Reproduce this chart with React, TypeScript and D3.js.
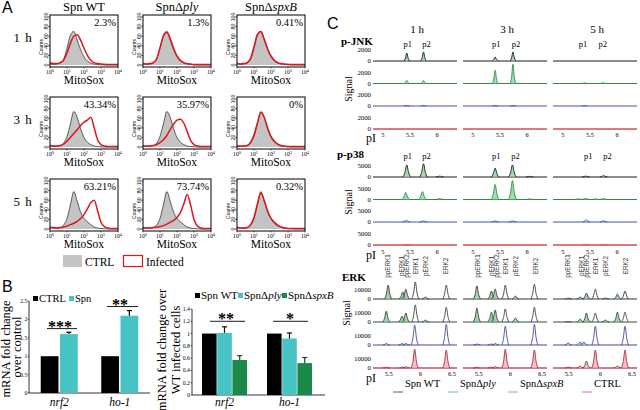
import React from "react";
import * as d3 from "d3";

const SERIF = "'Liberation Serif','Times New Roman',serif";
const SANS = "'Liberation Sans',Arial,sans-serif";

// ---------------- Panel A data ----------------
const strainNames = ["Spn WT", "SpnΔ", "SpnΔ"];
const strainItalic = ["", "ply", "spxB"];
const timeLabels = ["1 h", "3 h", "5 h"];
const positivePct = [
  ["2.3%", "1.3%", "0.41%"],
  ["43.34%", "35.97%", "0%"],
  ["63.21%", "73.74%", "0.32%"],
];
const logBins = [0, 0.2, 0.4, 0.6, 0.8, 1.0, 1.2, 1.4, 1.6, 1.8, 2.0, 2.2, 2.4, 2.6, 2.8, 3.0, 3.2, 3.4, 3.6, 3.8, 4.0];
const countTicks = [0, 20, 40, 60, 80, 100];
const decadeTicks = [0, 1, 2, 3, 4];

const ctrl1h = [3, 1, 2, 4, 12, 35, 62, 70, 52, 32, 17, 8, 4, 2, 1, 0.5, 0, 0, 0, 0, 0];
const ctrl3h = [3, 1, 2, 3, 8, 22, 48, 74, 62, 38, 20, 10, 5, 2, 1, 0.5, 0, 0, 0, 0, 0];
const ctrl5h = [4, 2, 2, 3, 8, 22, 50, 78, 58, 35, 22, 15, 9, 4, 2, 1, 0.5, 0, 0, 0, 0];
const inf1hWT = [4, 3, 3, 5, 10, 25, 45, 60, 63, 52, 35, 20, 10, 5, 3, 2, 1.5, 1, 1, 1, 1];
const inf1hPly = [3, 2, 3, 5, 13, 36, 60, 68, 55, 35, 19, 10, 5, 3, 2, 1, 1, 1, 1, 1, 1];
const inf1hSpxB = [3, 2, 3, 5, 14, 38, 64, 70, 54, 34, 19, 10, 5, 3, 2, 1.5, 1, 1, 1, 1, 1];
const inf3hWT = [3, 2, 2, 3, 6, 12, 20, 28, 36, 45, 52, 56, 62, 40, 15, 5, 2, 1, 1, 1, 1];
const inf3hPly = [2, 2, 2, 3, 5, 9, 15, 24, 36, 48, 56, 58, 50, 32, 14, 5, 2, 1, 1, 1, 1];
const inf3hSpxB = [2, 2, 2, 3, 10, 25, 50, 72, 62, 40, 22, 12, 6, 3, 2, 1, 1, 1, 1, 1, 1];
const inf5hWT = [3, 3, 2, 3, 4, 6, 9, 12, 16, 22, 30, 42, 55, 60, 38, 14, 5, 2, 1, 1, 1];
const inf5hPly = [2, 2, 2, 3, 4, 5, 7, 10, 14, 18, 24, 34, 52, 72, 50, 20, 6, 2, 1, 1, 1];
const inf5hSpxB = [3, 2, 2, 3, 9, 24, 52, 75, 60, 38, 22, 13, 7, 4, 2, 1, 1, 1, 1, 1, 1];

// ---------------- Panel B data ----------------
const genes = ["nrf2", "ho-1"];
const leftSeries = ["CTRL", "Spn"];
const ctrlFold = [1, 1];
const spnFold = [1.6, 2.1];
const spnFoldErr = [0.05, 0.14];
const leftTicks = [0, 0.5, 1, 1.5, 2, 2.5];
const rightSeries = ["Spn WT", "SpnΔply", "SpnΔspxB"];
const wtFold = [1, 1];
const plyFold = [1.01, 0.92];
const plyFoldErr = [0.1, 0.09];
const spxBFold = [0.57, 0.52];
const spxBFoldErr = [0.07, 0.09];
const rightTicks = [0, 0.2, 0.4, 0.6, 0.8, 1, 1.2, 1.4];
const leftStars = ["***", "**"];
const rightStars = ["**", "*"];

// ---------------- Panel C data ----------------
const cTimes = ["1 h", "3 h", "5 h"];
const jnkPeaks = [
  [[[5.44, 1450], [5.75, 1650]], [[5.44, 550], [5.75, 550]], [[5.44, 100], [5.75, 100]], []],
  [[[5.41, 730], [5.74, 1650]], [[5.41, 2400], [5.74, 3500]], [[5.41, 80], [5.74, 80]], []],
  [[], [[5.4, 120], [5.74, 150]], [[5.4, 80]], []],
];
const p38Peaks = [
  [[[5.44, 5500], [5.75, 6000], [6.05, 400]], [[5.42, 3200], [5.73, 3600], [6.05, 400]], [[5.43, 700], [5.75, 500]], [[5.45, 200]]],
  [[[5.41, 4000], [5.73, 5500], [6.05, 300]], [[5.41, 6800], [5.73, 8600], [6.05, 300]], [[5.41, 500], [5.73, 500]], []],
  [[[5.42, 400], [5.75, 600]], [[5.28, 300], [5.42, 500], [5.6, 300], [5.75, 500]], [[5.43, 1000], [5.75, 600]], [[5.43, 300], [5.75, 300]]],
];
const erkPeaks = [
  [
    [[5.49, 15500], [5.72, 7800], [5.77, 11000], [5.92, 19000], [6.08, 2200], [6.41, 15500]],
    [[5.46, 12000], [5.71, 6600], [5.77, 10000], [5.92, 19000], [6.08, 2200], [6.41, 16500]],
    [[5.46, 1600], [5.71, 1600], [5.77, 1600], [5.91, 22000], [6.41, 23000]],
    [[5.46, 1000], [5.72, 1000], [5.77, 1500], [5.91, 21000], [6.41, 20000]],
  ],
  [
    [[5.47, 14500], [5.7, 8900], [5.76, 11000], [5.92, 15500], [6.08, 3300], [6.38, 16500]],
    [[5.47, 15500], [5.7, 11000], [5.76, 13300], [5.92, 14500], [6.08, 4400], [6.38, 16500]],
    [[5.47, 1100], [5.7, 1100], [5.76, 1600], [5.92, 21000], [6.38, 23000]],
    [[5.47, 800], [5.7, 1000], [5.76, 1500], [5.92, 21000], [6.38, 20000]],
  ],
  [
    [[5.49, 1000], [5.68, 2200], [5.78, 6600], [5.92, 11000], [6.08, 1100], [6.27, 5500], [6.39, 8900]],
    [[5.49, 600], [5.68, 3300], [5.78, 10000], [5.92, 10000], [6.08, 2200], [6.27, 11000], [6.39, 11000]],
    [[5.49, 2200], [5.68, 3300], [5.74, 3300], [5.92, 21000], [6.39, 21000]],
    [[5.49, 1100], [5.68, 2200], [5.78, 7800], [5.92, 20000], [6.27, 2200], [6.39, 20000]],
  ],
];
const erkLabels = ["ppERK1", "pERK1", "ppERK2", "ERK1", "pERK2", "ERK2"];
const erkLabelPI = [5.49, 5.7, 5.78, 5.92, 6.09, 6.41];
const lowPITicks = [5, 5.5, 6];
const erkPITicks = [5.5, 6, 6.5];
const legendC = ["Spn WT", "SpnΔ", "SpnΔ", "CTRL"];
const legendCItalic = ["", "ply", "spxB", ""];

// ---------------- Panel A ----------------
function Hist({ x0, y0, ctrl, inf, pct }: any) {
  const fw = 68, fh = 52;
  const x = d3.scaleLog().domain([1, 1e4]).range([x0, x0 + fw]);
  const y = d3.scaleLinear().domain([0, 100]).range([y0 + 50, y0 + 2]);
  const gx = (_: number, i: number) => x(Math.pow(10, logBins[i]));
  const line = d3.line<number>().x(gx).y((d) => y(d)).curve(d3.curveMonotoneX);
  const area = d3.area<number>().x(gx).y0(y(0)).y1((d) => y(d)).curve(d3.curveMonotoneX);
  const id = `clip${x0}_${y0}`;
  return (
    <g>
      <clipPath id={id}>
        <rect x={x0} y={y0} width={fw} height={fh} />
      </clipPath>
      <g clipPath={`url(#${id})`}>
        <path d={area(ctrl) || ""} fill="#c4c4c4" />
        <path d={line(ctrl) || ""} fill="none" stroke="#222" strokeWidth={0.7} />
        <path d={line(inf) || ""} fill="none" stroke="#e0141c" strokeWidth={1.5} />
      </g>
      <rect x={x0} y={y0} width={fw} height={fh} fill="none" stroke="#000" strokeWidth={1} />
      {countTicks.map((t) => (
        <g key={t}>
          <line x1={x0 - 2} x2={x0} y1={y(t)} y2={y(t)} stroke="#000" strokeWidth={0.6} />
          <text transform={`translate(${x0 - 2.5},${y(t)}) rotate(-90)`} textAnchor="middle" fontSize={5.2} fontFamily={SANS}>
            {t}
          </text>
        </g>
      ))}
      <text transform={`translate(${x0 - 7.5},${y0 + 32}) rotate(-90)`} textAnchor="middle" fontSize={5} fontFamily={SANS}>
        Counts
      </text>
      {decadeTicks.map((k) => (
        <g key={k}>
          <line x1={x(Math.pow(10, k))} x2={x(Math.pow(10, k))} y1={y0 + fh} y2={y0 + fh + 1.5} stroke="#000" strokeWidth={0.6} />
          <text x={x(Math.pow(10, k))} y={y0 + fh + 6.8} textAnchor="middle" fontSize={5.8} fontFamily={SERIF}>
            10<tspan fontSize={4.2} dy={-2.3}>{k}</tspan>
          </text>
        </g>
      ))}
      <text x={x0 + fw / 2} y={y0 + 68.5} textAnchor="middle" fontSize={11.5}>
        MitoSox
      </text>
      <text x={x0 + fw - 2} y={y0 + 11} textAnchor="end" fontSize={10.5}>
        {pct}
      </text>
    </g>
  );
}

function PanelA() {
  const colX = [50, 143, 237];
  const rowY = [15, 97, 179];
  const ctrls = [ctrl1h, ctrl3h, ctrl5h];
  const infected = [
    [inf1hWT, inf1hPly, inf1hSpxB],
    [inf3hWT, inf3hPly, inf3hSpxB],
    [inf5hWT, inf5hPly, inf5hSpxB],
  ];
  return (
    <g>
      <text x={2} y={13} fontFamily={SANS} fontSize={16}>A</text>
      {strainNames.map((s, i) => (
        <text key={i} x={colX[i] + 34} y={11} textAnchor="middle" fontSize={12.5}>
          {s}
          <tspan fontStyle="italic">{strainItalic[i]}</tspan>
        </text>
      ))}
      {timeLabels.map((t, r) => (
        <text key={t} x={23} y={rowY[r] + 27} textAnchor="middle" fontSize={13} letterSpacing={1}>
          {t}
        </text>
      ))}
      {rowY.map((ry, r) =>
        colX.map((cx, c) => (
          <Hist key={`${r}${c}`} x0={cx} y0={ry} ctrl={ctrls[r]} inf={infected[r][c]} pct={positivePct[r][c]} />
        ))
      )}
      <rect x={63} y={255} width={19} height={12} fill="#c4c4c4" />
      <text x={85} y={266} fontSize={11.5}>CTRL</text>
      <rect x={123.5} y={255.5} width={19} height={11} fill="#fff" stroke="#e0141c" strokeWidth={1.2} />
      <text x={146} y={266} fontSize={11.5}>Infected</text>
    </g>
  );
}

// ---------------- Panel B ----------------
function Stars({ x, x1, x2, y, s }: any) {
  return (
    <g>
      <line x1={x1} x2={x2} y1={y} y2={y} stroke="#000" strokeWidth={0.9} />
      <text x={x} y={y + 3} textAnchor="middle" fontSize={16} fontWeight="bold">
        {s}
      </text>
    </g>
  );
}

function PanelB() {
  const cyan = "#47c3c6";
  const green = "#1b8a49";
  const yL = d3.scaleLinear().domain([0, 2.5]).range([393, 301]);
  const gL = d3.scalePoint().domain(genes).range([29, 150]).padding(0.5);
  const sL = d3.scaleBand().domain(leftSeries).range([-18.5, 18.5]).paddingInner(0.08);
  const leftVals = [ctrlFold, spnFold];
  const leftCols = ["#000", cyan];
  const yR = d3.scaleLinear().domain([0, 1.4]).range([395, 309]);
  const gR = d3.scalePoint().domain(genes).range([192, 322]).padding(0.5);
  const sR = d3.scaleBand().domain(rightSeries).range([-22.5, 22.5]).paddingInner(0.04);
  const rightVals = [wtFold, plyFold, spxBFold];
  const rightErr = [null, plyFoldErr, spxBFoldErr];
  const rightCols = ["#000", cyan, green];
  const errBar = (cx: number, top: number, bot: number, color: string, k: string) => (
    <g key={k}>
      <line x1={cx} x2={cx} y1={top} y2={bot} stroke={color} strokeWidth={1.2} />
      <line x1={cx - 2.5} x2={cx + 2.5} y1={top} y2={top} stroke={color} strokeWidth={1.2} />
    </g>
  );
  return (
    <g>
      <text x={2} y={292} fontFamily={SANS} fontSize={16}>B</text>
      <text transform="translate(10,349) rotate(-90)" textAnchor="middle" fontSize={12.5}>mRNA fold change</text>
      <text transform="translate(20.5,347) rotate(-90)" textAnchor="middle" fontSize={12.5}>over control</text>
      <line x1={29} x2={29} y1={yL(0)} y2={yL(2.5)} stroke="#000" strokeWidth={0.8} />
      <line x1={29} x2={150} y1={yL(0)} y2={yL(0)} stroke="#000" strokeWidth={0.8} />
      {leftTicks.map((t) => (
        <g key={t}>
          <line x1={27.5} x2={29} y1={yL(t)} y2={yL(t)} stroke="#000" strokeWidth={0.6} />
          <text x={27.3} y={yL(t) + 2} textAnchor="end" fontSize={5.6}>{t}</text>
        </g>
      ))}
      {genes.map((g, gi) =>
        leftSeries.map((s, si) => {
          const x = (gL(g) as number) + (sL(s) as number);
          const v = leftVals[si][gi];
          return <rect key={g + s} x={x} y={yL(v)} width={sL.bandwidth()} height={yL(0) - yL(v)} fill={leftCols[si]} />;
        })
      )}
      {genes.map((g, gi) => {
        const cx = (gL(g) as number) + (sL("Spn") as number) + sL.bandwidth() / 2;
        return errBar(cx, yL(spnFold[gi] + spnFoldErr[gi]), yL(spnFold[gi]), "#000", "le" + g);
      })}
      <Stars x={60} x1={47} x2={77} y={yL(1.75)} s={leftStars[0]} />
      <Stars x={120} x1={107} x2={138} y={yL(2.35)} s={leftStars[1]} />
      {genes.map((g) => (
        <text key={g} x={gL(g) as number} y={406} textAnchor="middle" fontStyle="italic" fontSize={11.5}>{g}</text>
      ))}
      <rect x={33} y={296} width={5} height={5} fill="#000" />
      <text x={39} y={302} fontSize={10.5}>{leftSeries[0]}</text>
      <rect x={69} y={296} width={5} height={5} fill={cyan} />
      <text x={75} y={302} fontSize={10.5}>{leftSeries[1]}</text>

      <text transform="translate(166,350) rotate(-90)" textAnchor="middle" fontSize={12.5}>mRNA fold change over</text>
      <text transform="translate(180,350) rotate(-90)" textAnchor="middle" fontSize={12.5}>WT infected cells</text>
      <line x1={192} x2={192} y1={yR(0)} y2={yR(1.4)} stroke="#000" strokeWidth={0.8} />
      <line x1={192} x2={325} y1={yR(0)} y2={yR(0)} stroke="#000" strokeWidth={0.8} />
      {rightTicks.map((t) => (
        <g key={t}>
          <line x1={190.5} x2={192} y1={yR(t)} y2={yR(t)} stroke="#000" strokeWidth={0.6} />
          <text x={190} y={yR(t) + 2} textAnchor="end" fontSize={5.8}>{t}</text>
        </g>
      ))}
      {genes.map((g, gi) =>
        rightSeries.map((s, si) => {
          const x = (gR(g) as number) + (sR(s) as number);
          const v = rightVals[si][gi];
          return <rect key={g + s} x={x} y={yR(v)} width={sR.bandwidth()} height={yR(0) - yR(v)} fill={rightCols[si]} />;
        })
      )}
      {genes.map((g, gi) =>
        rightSeries.map((s, si) => {
          const e = rightErr[si];
          if (!e) return null;
          const cx = (gR(g) as number) + (sR(s) as number) + sR.bandwidth() / 2;
          const v = rightVals[si][gi];
          return errBar(cx, yR(v + e[gi]), yR(v), si === 1 ? "#111" : "#0d4a26", "re" + g + s);
        })
      )}
      <Stars x={226} x1={210} x2={245} y={yR(1.2)} s={rightStars[0]} />
      <Stars x={290} x1={273} x2={308} y={yR(1.2)} s={rightStars[1]} />
      {genes.map((g) => (
        <text key={g} x={gR(g) as number} y={406} textAnchor="middle" fontStyle="italic" fontSize={11.5}>{g}</text>
      ))}
      <rect x={195} y={293} width={5} height={5} fill="#000" />
      <text x={201} y={299} fontSize={11}>Spn WT</text>
      <rect x={238} y={293} width={5} height={5} fill={cyan} />
      <text x={244} y={299} fontSize={11}>SpnΔ<tspan fontStyle="italic">ply</tspan></text>
      <rect x={282} y={293} width={5} height={5} fill={green} />
      <text x={288} y={299} fontSize={11}>SpnΔ<tspan fontStyle="italic">spxB</tspan></text>
    </g>
  );
}

// ---------------- Panel C ----------------
const cColX = [373, 463, 553];
const cW = 84;

function Traces({ peaks, base, tick, px, domain, w, strokes, fills, baseStrokes, baseWidths, isErk }: any) {
  return (
    <g>
      {cColX.map((cx, c) => {
        const x = d3.scaleLinear().domain(domain).range([cx, cx + cW]);
        return (
          <g key={c}>
            {base.map((b: number, r: number) => {
              const y = d3.scaleLinear().domain([0, tick]).range([b, b - px]);
              const line = d3.line<number[]>().x((d) => x(d[0])).y((d) => y(d[1])).curve(d3.curveMonotoneX);
              return (
                <g key={r}>
                  <line x1={cx} x2={cx + cW} y1={b} y2={b} stroke={baseStrokes[r]} strokeWidth={baseWidths[r]} />
                  {peaks[c][r].map((pk: number[], i: number) => {
                    const [p, h] = pk;
                    const pts = [[p - w, 0], [p - w * 0.5, h * 0.35], [p, h], [p + w * 0.5, h * 0.35], [p + w, 0]];
                    const total = isErk && (Math.abs(p - 5.92) < 0.03 || Math.abs(p - 6.4) < 0.03);
                    const fill = total ? (r === 3 ? "#f2a9b4" : "none") : fills[r];
                    return (
                      <path key={i} d={line(pts) || ""} fill={fill} fillOpacity={0.75} stroke={strokes[r]} strokeWidth={0.9} />
                    );
                  })}
                </g>
              );
            })}
          </g>
        );
      })}
    </g>
  );
}

function PanelC() {
  const jnkDomain = [4.815, 6.37];
  const erkDomain = [5.25, 6.58];
  const lowStrokes = ["#1a1a1a", "#2f8a45", "#4452a8", "#d9534f"];
  const lowFills = ["#86cf94", "#86cf94", "none", "none"];
  const lowBase = ["#1a1a1a", "#2f8a45", "#4452a8", "#e07a7a"];
  const lowBaseW = [1, 1, 1.2, 1.8];
  const erkStrokes = ["#3d3548", "#34453b", "#4b42a0", "#a32a40"];
  const erkFills = ["#7cc88a", "#7cc88a", "#9fd7a8", "#9fd7a8"];
  const erkBase = ["#333", "#3a4a40", "#4b42a0", "#c45060"];
  const erkBaseW = [1, 1, 1, 1.4];
  const jnkBase = [61, 83.5, 106, 129];
  const p38Base = [177, 199.5, 222, 245];
  const erkBase_ = [299, 322, 345, 368];
  const xJ = (c: number) => d3.scaleLinear().domain(jnkDomain).range([cColX[c], cColX[c] + cW]);
  const xE = (c: number) => d3.scaleLinear().domain(erkDomain).range([cColX[c], cColX[c] + cW]);
  const legX = [393, 448, 508, 582];
  const legCol = ["#5a5a5a", "#6cc3a8", "#a59cc8", "#e0707a"];
  const rowTick = (bases: number[], tick: number, px: number, label: string) =>
    bases.map((b, r) => (
      <g key={r}>
        <text x={371} y={b - px + 2.3} textAnchor="end" fontSize={6.8}>{label}</text>
        <text x={371} y={b + 2.3} textAnchor="end" fontSize={6.8}>0</text>
      </g>
    ));
  const peakLabels = (c: number, p1: number, p2: number, y: number) => (
    <g key={"pl" + c + y}>
      <text x={xJ(c)(p1) + 1} y={y} textAnchor="middle" fontSize={8.5}>p1</text>
      <text x={xJ(c)(p2) + 3} y={y} textAnchor="middle" fontSize={8.5}>p2</text>
    </g>
  );
  return (
    <g>
      <text x={327} y={29} fontFamily={SANS} fontSize={16}>C</text>
      {cTimes.map((t, c) => (
        <text key={t} x={cColX[c] + 44} y={33} textAnchor="middle" fontSize={11}>{t}</text>
      ))}
      <text x={341} y={45} fontSize={11} fontWeight="bold">p-JNK</text>
      <text transform="translate(352,89) rotate(-90)" textAnchor="middle" fontSize={10}>Signal</text>
      {rowTick(jnkBase, 2000, 11, "2000")}
      {peakLabels(0, 5.44, 5.75, 47)}
      {peakLabels(1, 5.41, 5.74, 47)}
      {peakLabels(2, 5.35, 5.68, 47)}
      <Traces peaks={jnkPeaks} base={jnkBase} tick={2000} px={11} domain={jnkDomain} w={0.05}
        strokes={lowStrokes} fills={lowFills} baseStrokes={lowBase} baseWidths={lowBaseW} isErk={false} />
      <text x={366} y={142} fontSize={12}>pI</text>
      {cColX.map((_, c) =>
        lowPITicks.map((t) => (
          <text key={c + "j" + t} x={xJ(c)(t)} y={137} textAnchor="middle" fontSize={6.5}>{t}</text>
        ))
      )}
      <text x={337} y={158} fontSize={11} fontWeight="bold">p-p38</text>
      <text transform="translate(352,202) rotate(-90)" textAnchor="middle" fontSize={10}>Signal</text>
      {rowTick(p38Base, 5000, 11, "5000")}
      {peakLabels(0, 5.44, 5.75, 159)}
      {peakLabels(1, 5.41, 5.73, 159)}
      {peakLabels(2, 5.45, 5.77, 159)}
      <Traces peaks={p38Peaks} base={p38Base} tick={5000} px={11} domain={jnkDomain} w={0.07}
        strokes={lowStrokes} fills={lowFills} baseStrokes={lowBase} baseWidths={lowBaseW} isErk={false} />
      <text x={366} y={259} fontSize={12}>pI</text>
      {cColX.map((_, c) =>
        lowPITicks.map((t) => (
          <text key={c + "p" + t} x={xJ(c)(t)} y={254} textAnchor="middle" fontSize={6.5}>{t}</text>
        ))
      )}
      <text x={342} y={281} fontSize={11} fontWeight="bold">ERK</text>
      <text transform="translate(350,313) rotate(-90)" textAnchor="middle" fontSize={10}>Signal</text>
      {rowTick(erkBase_, 10000, 9, "10000")}
      {cColX.map((_, c) =>
        erkLabels.map((l, i) => (
          <text key={c + l} transform={`translate(${xE(c)(erkLabelPI[i]) + 2.2},266) rotate(-90)`} textAnchor="middle"
            fontSize={6.3} fontFamily={SANS} fill="#333">{l}</text>
        ))
      )}
      <Traces peaks={erkPeaks} base={erkBase_} tick={10000} px={9} domain={erkDomain} w={0.055}
        strokes={erkStrokes} fills={erkFills} baseStrokes={erkBase} baseWidths={erkBaseW} isErk={true} />
      <text x={366} y={382} fontSize={12}>pI</text>
      {cColX.map((_, c) =>
        erkPITicks.map((t) => (
          <text key={c + "e" + t} x={xE(c)(t)} y={376} textAnchor="middle" fontSize={6.5}>{t}</text>
        ))
      )}
      {legendC.map((l, i) => (
        <g key={i}>
          <line x1={legX[i]} x2={legX[i] + 10} y1={392} y2={392} stroke={legCol[i]} strokeWidth={1} />
          <text x={legX[i] + 12} y={387} fontSize={10.5}>
            {l}
            <tspan fontStyle="italic">{legendCItalic[i]}</tspan>
          </text>
        </g>
      ))}
    </g>
  );
}

export default function App() {
  return (
    <svg width={640} height={410} style={{ position: "absolute", left: 0, top: 0, background: "#fff" }} fontFamily={SERIF}>
      <rect width={640} height={410} fill="#fff" />
      <PanelA />
      <PanelB />
      <PanelC />
    </svg>
  );
}
